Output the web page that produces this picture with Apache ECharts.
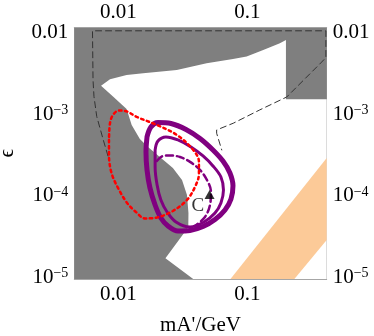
<!DOCTYPE html>
<html>
<head>
<meta charset="utf-8">
<script src="https://cdn.jsdelivr.net/npm/echarts@6/dist/echarts.min.js"></script>
<style>
  html, body { margin: 0; padding: 0; background: #fff; }
  #chart { width: 374px; height: 336px; }
</style>
</head>
<body>
<div id="chart"></div>
<script>
// axis ranges (mA' in GeV, epsilon)
const massRange = [0.00456, 0.413]
const epsRange = [8.86e-6, 0.0107]

const xMajorTicks = [0.01, 0.1]
const xMinorTicks = [0.005, 0.006, 0.007, 0.008, 0.009, 0.02, 0.03, 0.04, 0.05, 0.06, 0.07, 0.08, 0.09, 0.2, 0.3, 0.4]
const yMajorTicks = [1e-5, 1e-4, 1e-3, 1e-2]
const yMinorTicks = [9e-6, 2e-5, 3e-5, 4e-5, 5e-5, 6e-5, 7e-5, 8e-5, 9e-5, 2e-4, 3e-4, 4e-4, 5e-4, 6e-4, 7e-4, 8e-4, 9e-4, 2e-3, 3e-3, 4e-3, 5e-3, 6e-3, 7e-3, 8e-3, 9e-3]

// excluded (gray) covers the whole frame, the allowed window is cut out of it
const excludedRegion = [[0.00456, 8.86e-6], [0.413, 8.86e-6], [0.413, 0.0107], [0.00456, 0.0107]]
const allowedRegion = [
  [0.00735, 2.07e-3], [0.00863, 2.50e-3], [0.0116, 2.82e-3], [0.0156, 2.96e-3], [0.0284, 3.25e-3],
  [0.0484, 3.93e-3], [0.0775, 4.43e-3], [0.0989, 4.73e-3], [0.133, 5.71e-3], [0.179, 6.90e-3],
  [0.1995, 7.58e-3], [0.1995, 1.42e-3], [0.413, 1.42e-3], [0.413, 8.86e-6], [0.0381, 8.86e-6],
  [0.0232, 1.59e-5], [0.0349, 3.82e-5], [0.0350, 5.71e-5], [0.0341, 9.51e-5], [0.0312, 1.45e-4],
  [0.0265, 2.04e-4], [0.0210, 2.78e-4], [0.0170, 3.69e-4], [0.0147, 4.62e-4], [0.0127, 6.87e-4],
  [0.0116, 1.08e-3], [0.0091, 1.53e-3]
]
const orangeBand = [[0.0741, 8.86e-6], [0.413, 2.70e-4], [0.413, 2.67e-5], [0.232, 8.86e-6]]

const dashedBound = [
  [0.00832, 2.86e-4], [0.00765, 4.50e-4], [0.00681, 8.69e-4], [0.00648, 1.53e-3], [0.00637, 2.45e-3],
  [0.00631, 9.8e-3], [0.407, 9.8e-3], [0.407, 4.6e-3], [0.372, 3.96e-3], [0.202, 1.51e-3],
  [0.125, 1.05e-3], [0.0779, 7.21e-4], [0.0579, 5.96e-4], [0.0579, 5.43e-4], [0.0634, 3.39e-4]
]
const redDotted = [
  [0.00847, 4.50e-4], [0.00847, 2.94e-4], [0.00886, 1.77e-4], [0.00995, 1.16e-4], [0.0117, 7.59e-5],
  [0.0137, 5.88e-5], [0.0161, 4.90e-5], [0.0200, 5.04e-5], [0.0265, 6.05e-5], [0.0341, 8.26e-5],
  [0.0393, 1.19e-4], [0.0422, 1.72e-4], [0.0422, 2.42e-4], [0.0381, 3.39e-4], [0.0284, 5.18e-4],
  [0.0199, 6.87e-4], [0.0139, 8.61e-4], [0.0113, 1.02e-3], [0.0101, 1.03e-3], [0.0091, 9.12e-4],
  [0.00863, 7.26e-4], [0.00847, 4.50e-4]
]
const purpleThick = [
  [0.0167, 4.90e-4], [0.0164, 3.20e-4], [0.0167, 1.93e-4], [0.0176, 1.16e-4], [0.0193, 7.16e-5],
  [0.0214, 4.96e-5], [0.0243, 3.96e-5], [0.0290, 3.44e-5], [0.0360, 3.49e-5], [0.0454, 3.90e-5],
  [0.0562, 4.75e-5], [0.0672, 6.22e-5], [0.0748, 8.49e-5], [0.0775, 1.23e-4], [0.0734, 1.77e-4],
  [0.0648, 2.48e-4], [0.0542, 3.39e-4], [0.0430, 4.69e-4], [0.0335, 6.05e-4], [0.0256, 7.16e-4],
  [0.0203, 7.37e-4], [0.0179, 6.49e-4], [0.0167, 4.90e-4]
]
const purpleMedium = [
  [0.0193, 3.39e-4], [0.0193, 2.10e-4], [0.0200, 1.26e-4], [0.0214, 8.26e-5], [0.0239, 5.88e-5],
  [0.0280, 4.43e-5], [0.0360, 3.85e-5], [0.0462, 4.43e-5], [0.0562, 5.71e-5], [0.0625, 7.59e-5],
  [0.0654, 1.09e-4], [0.0625, 1.58e-4], [0.0542, 2.16e-4], [0.0454, 2.86e-4], [0.0366, 3.69e-4],
  [0.0290, 4.50e-4], [0.0234, 4.90e-4], [0.0203, 4.37e-4], [0.0193, 3.39e-4]
]
const purpleDashed = [
  [0.0199, 2.48e-4], [0.0218, 2.82e-4], [0.0252, 2.90e-4], [0.0301, 2.78e-4], [0.0360, 2.42e-4],
  [0.0430, 1.93e-4], [0.0487, 1.45e-4], [0.0523, 1.04e-4], [0.0514, 7.16e-5], [0.0470, 5.11e-5],
  [0.0393, 3.96e-5]
]
const benchmarkC = [[0.051, 9.6e-5]]

const serif = 'Liberation Serif'
const frameColor = '#a6a6a6'

function massLabel(v) {
  return v < 0.05 ? '0.01' : '0.1'
}
function epsLabel(v) {
  const e = Math.round(Math.log10(v))
  return e === -2 ? '0.01' : '10{sup|\u2212' + (-e) + '}'
}
const labelRich = { sup: { fontFamily: serif, fontSize: 14, color: '#000', verticalAlign: 'top', padding: [0, 0, 4, 0] } }

function region(name, points, color, z) {
  return {
    name: name,
    type: 'custom',
    coordinateSystem: 'cartesian2d',
    clip: true,
    silent: true,
    z: z,
    data: points,
    renderItem: function (params, api) {
      if (params.dataIndex !== 0) return null
      return {
        type: 'polygon',
        shape: { points: points.map(p => api.coord(p)) },
        style: { fill: color }
      }
    }
  }
}

function curve(name, points, color, width, dash, smooth, z) {
  return {
    name: name,
    type: 'line',
    data: points,
    smooth: smooth,
    symbol: 'none',
    z: z,
    lineStyle: { color: color, width: width, type: dash, cap: 'round' }
  }
}

function xAxisFor(position, major) {
  return {
    type: 'log',
    position: position,
    min: massRange[0],
    max: massRange[1],
    axisLine: { show: major, onZero: false, lineStyle: { color: frameColor, width: 1 } },
    axisTick: { show: true, inside: true, length: major ? 7 : 4, customValues: major ? xMajorTicks : xMinorTicks, lineStyle: { color: frameColor } },
    minorTick: { show: false },
    splitLine: { show: false },
    axisLabel: major
      ? { customValues: xMajorTicks, formatter: massLabel, margin: 5, fontFamily: serif, fontSize: 21, color: '#000' }
      : { show: false }
  }
}

function yAxisFor(position, major) {
  return {
    type: 'log',
    position: position,
    min: epsRange[0],
    max: epsRange[1],
    axisLine: { show: major, onZero: false, lineStyle: { color: frameColor, width: 1 } },
    axisTick: { show: true, inside: true, length: major ? 7 : 4, customValues: major ? yMajorTicks : yMinorTicks, lineStyle: { color: frameColor } },
    minorTick: { show: false },
    splitLine: { show: false },
    axisLabel: major
      ? { customValues: yMajorTicks, formatter: epsLabel, margin: 6, padding: [5, 0, 0, 0], fontFamily: serif, fontSize: 21, color: '#000', rich: labelRich }
      : { show: false }
  }
}

const bottomAxis = xAxisFor('bottom', true)
bottomAxis.name = "mA'/GeV"
bottomAxis.nameLocation = 'middle'
bottomAxis.nameGap = 36
bottomAxis.nameTextStyle = { fontFamily: serif, fontSize: 21, color: '#000' }

const leftAxis = yAxisFor('left', true)
leftAxis.name = '\u03f5'
leftAxis.nameLocation = 'middle'
leftAxis.nameRotate = 90
leftAxis.nameGap = 56
leftAxis.nameTextStyle = { fontFamily: serif, fontSize: 21, color: '#000' }

const option = {
  animation: false,
  backgroundColor: '#fff',
  grid: { left: 74.3, right: 47.3, top: 27.7, bottom: 57, containLabel: false, outerBoundsMode: 'none' },
  xAxis: [bottomAxis, xAxisFor('bottom', false), xAxisFor('top', true), xAxisFor('top', false)],
  yAxis: [leftAxis, yAxisFor('left', false), yAxisFor('right', true), yAxisFor('right', false)],
  series: [
    region('excluded', excludedRegion, '#7f7f7f', 1),
    region('allowed', allowedRegion, '#ffffff', 2),
    region('band', orangeBand, '#fcca98', 3),
    curve('bound', dashedBound, '#333333', 1, [6, 4], false, 4),
    curve('thick', purpleThick, '#800080', 5, 'solid', 0.35, 5),
    curve('medium', purpleMedium, '#800080', 3, 'solid', 0.35, 5),
    curve('dashed', purpleDashed, '#800080', 2.5, [7, 4], 0.35, 5),
    curve('dotted', redDotted, '#ff0000', 2.5, [2.5, 3.5], 0.35, 6),
    {
      name: 'C',
      type: 'scatter',
      data: benchmarkC,
      symbol: 'triangle',
      symbolSize: [10, 9],
      z: 7,
      itemStyle: { color: '#000' },
      label: { show: true, formatter: 'C', position: [-13, 6], fontFamily: serif, fontSize: 19, color: '#000' }
    }
  ]
}

const myChart = echarts.init(document.getElementById('chart'))
myChart.setOption(option)
</script>
</body>
</html>
